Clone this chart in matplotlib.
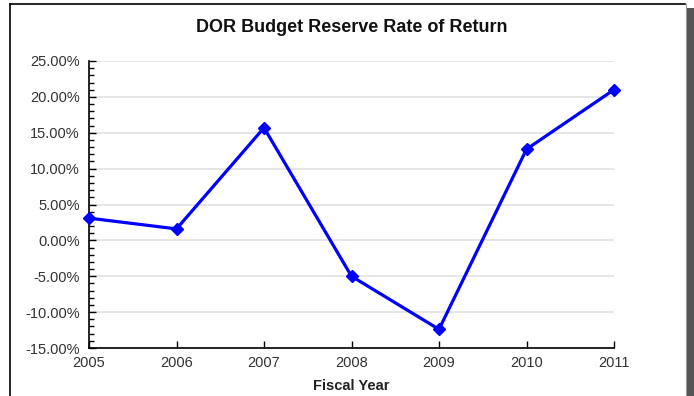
import matplotlib.pyplot as plt
from matplotlib.lines import Line2D
from matplotlib.patches import Rectangle
from matplotlib.ticker import MultipleLocator, FuncFormatter

years = [2005, 2006, 2007, 2008, 2009, 2010, 2011]
rate_of_return = [3.1, 1.6, 15.7, -5.0, -12.4, 12.7, 21.0]

plt.rcParams['font.family'] = ['Liberation Sans', 'DejaVu Sans']

W, H = 694, 396
fig = plt.figure(figsize=(W / 100, H / 100), dpi=100)
ax = fig.add_axes([89 / W, 1 - 348 / H, (614 - 89) / W, (348 - 61) / H])

ax.plot(years, rate_of_return, color='#0000ff', lw=2.3, marker='D', ms=6.5,
        mec='#0000ff', mfc='#0000ff', zorder=3, clip_on=False)

ax.set_xlim(2005, 2011)
ax.set_ylim(-15, 25)
ax.set_xticks(years)
ax.yaxis.set_major_locator(MultipleLocator(5))
ax.yaxis.set_minor_locator(MultipleLocator(1))
ax.yaxis.set_major_formatter(FuncFormatter(lambda v, p: f'{v:.2f}%'))

ax.grid(axis='y', which='major', color='#e2e2e2', lw=1.2)
ax.set_axisbelow(True)
for side in ('top', 'right'):
    ax.spines[side].set_visible(False)
for side in ('left', 'bottom'):
    ax.spines[side].set_color('black')
    ax.spines[side].set_linewidth(1.2)

ax.tick_params(axis='y', which='major', direction='in', length=5, width=1,
               labelsize=10.5, colors='black', labelcolor='#333333', pad=6.5)
ax.tick_params(axis='y', which='minor', direction='in', length=3.5, width=1)
ax.tick_params(axis='x', direction='in', length=5, width=1, labelsize=10.5,
               labelcolor='#333333', pad=6)

ax.set_title('DOR Budget Reserve Rate of Return', fontsize=13,
             fontweight='bold', color='#111111', pad=21)
ax.set_xlabel('Fiscal Year', fontsize=10.5, fontweight='bold',
              color='#222222', labelpad=6)

# frame around the chart panel
fig.add_artist(Line2D([10 / W, 10 / W], [0, 1 - 4 / H], color='black', lw=1.2))
fig.add_artist(Line2D([10 / W, 685 / W], [1 - 4 / H, 1 - 4 / H], color='black', lw=1.2))
fig.add_artist(Line2D([685.5 / W, 685.5 / W], [0, 1 - 4 / H], color='#9a9a9a', lw=0.8))
fig.add_artist(Rectangle((687 / W, 0), 7 / W, 1 - 8 / H, transform=fig.transFigure,
                         color='#555555', lw=0))

fig.savefig('out.png', dpi=100)
